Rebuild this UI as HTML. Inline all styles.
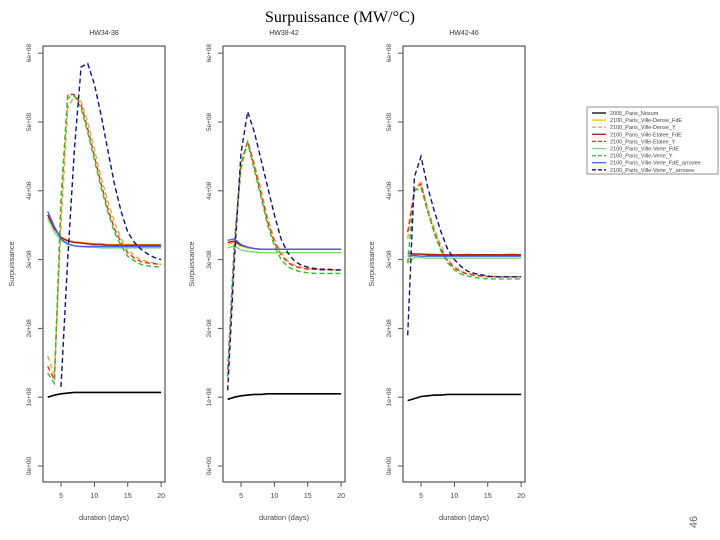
<!DOCTYPE html>
<html><head><meta charset="utf-8"><style>
body{margin:0;background:#fff;}
svg{display:block;font-family:"Liberation Sans",sans-serif;}
</style></head><body>
<svg id="c" width="720" height="540">
<text x="340" y="22" text-anchor="middle" font-family="Liberation Serif,serif" font-size="16">Surpuissance (MW/°C)</text>
<text transform="translate(697,522) rotate(-90)" font-size="11" fill="#666" text-anchor="middle">46</text>
<g id="legend"></g>
</svg>
<script>
const days=[3,4,5,6,7,8,9,10,11,12,13,14,15,16,17,18,19,20];
const yTicks=[0,1,2,3,4,5,6];
const yTickLabels=["0e+00","1e+08","2e+08","3e+08","4e+08","5e+08","6e+08"];
const xTicks=[5,10,15,20];
const panelTitles=["HW34-38","HW38-42","HW42-46"];
const seriesNames=["2005_Paris_Nosum","2100_Paris_Ville-Dense_FdE","2100_Paris_Ville-Dense_Y","2100_Paris_Ville-Etalee_FdE","2100_Paris_Ville-Etalee_Y","2100_Paris_Ville-Verte_FdE","2100_Paris_Ville-Verte_Y","2100_Paris_Ville-Verte_FdE_arrosee","2100_Paris_Ville-Verte_Y_arrosee"];
// values in units of 1e8
const p1=[
[1.00,1.03,1.05,1.06,1.07,1.07,1.07,1.07,1.07,1.07,1.07,1.07,1.07,1.07,1.07,1.07,1.07,1.07],
[3.65,3.45,3.33,3.28,3.26,3.25,3.24,3.23,3.23,3.22,3.22,3.22,3.22,3.22,3.22,3.22,3.22,3.22],
[1.6,1.3,3.5,5.2,5.38,5.3,5.0,4.6,4.2,3.85,3.55,3.3,3.15,3.05,3.0,2.97,2.95,2.93],
[3.65,3.45,3.32,3.27,3.25,3.24,3.23,3.22,3.22,3.21,3.21,3.21,3.21,3.21,3.21,3.21,3.21,3.21],
[1.45,1.25,3.8,5.4,5.4,5.25,4.9,4.5,4.1,3.75,3.45,3.25,3.1,3.02,2.97,2.95,2.94,2.93],
[3.6,3.4,3.28,3.22,3.2,3.19,3.18,3.18,3.17,3.17,3.17,3.17,3.17,3.17,3.17,3.17,3.17,3.17],
[1.35,1.2,3.9,5.35,5.38,5.2,4.85,4.45,4.05,3.7,3.4,3.2,3.05,2.98,2.93,2.91,2.9,2.89],
[3.7,3.48,3.3,3.23,3.2,3.19,3.19,3.19,3.19,3.19,3.19,3.19,3.19,3.19,3.19,3.19,3.19,3.19],
[null,null,1.15,3.0,4.6,5.8,5.85,5.55,5.1,4.6,4.1,3.7,3.4,3.25,3.15,3.08,3.03,3.0]];
const p2=[
[0.97,1.0,1.02,1.03,1.04,1.04,1.05,1.05,1.05,1.05,1.05,1.05,1.05,1.05,1.05,1.05,1.05,1.05],
[3.22,3.25,3.2,3.17,3.16,3.15,3.15,3.15,3.15,3.15,3.15,3.15,3.15,3.15,3.15,3.15,3.15,3.15],
[1.3,3.2,4.3,4.72,4.4,4.0,3.6,3.3,3.1,2.98,2.92,2.89,2.87,2.86,2.86,2.85,2.85,2.85],
[3.25,3.27,3.21,3.18,3.16,3.15,3.15,3.15,3.15,3.15,3.15,3.15,3.15,3.15,3.15,3.15,3.15,3.15],
[1.4,3.25,4.4,4.72,4.35,3.95,3.55,3.25,3.07,2.96,2.9,2.88,2.86,2.86,2.85,2.85,2.85,2.85],
[3.17,3.2,3.14,3.12,3.11,3.1,3.1,3.1,3.1,3.1,3.1,3.1,3.1,3.1,3.1,3.1,3.1,3.1],
[1.3,3.15,4.4,4.7,4.3,3.9,3.5,3.2,3.0,2.9,2.85,2.82,2.81,2.8,2.8,2.8,2.8,2.8],
[3.28,3.3,3.22,3.18,3.16,3.15,3.15,3.15,3.15,3.15,3.15,3.15,3.15,3.15,3.15,3.15,3.15,3.15],
[1.1,3.0,4.55,5.15,4.85,4.45,4.05,3.65,3.3,3.1,2.98,2.92,2.89,2.87,2.86,2.86,2.85,2.85]];
const p3=[
[0.95,0.98,1.01,1.02,1.03,1.03,1.04,1.04,1.04,1.04,1.04,1.04,1.04,1.04,1.04,1.04,1.04,1.04],
[3.0,3.08,3.08,3.08,3.08,3.07,3.07,3.07,3.07,3.08,3.07,3.07,3.07,3.07,3.07,3.08,3.08,3.07],
[3.3,4.05,4.12,3.75,3.45,3.2,3.0,2.9,2.83,2.8,2.78,2.77,2.76,2.76,2.75,2.75,2.75,2.75],
[3.1,3.08,3.08,3.07,3.07,3.07,3.07,3.07,3.07,3.07,3.07,3.07,3.07,3.07,3.07,3.07,3.07,3.07],
[3.4,4.0,4.1,3.7,3.4,3.15,2.98,2.88,2.82,2.79,2.77,2.76,2.75,2.75,2.75,2.75,2.75,2.75],
[2.95,3.03,3.03,3.02,3.02,3.02,3.02,3.02,3.02,3.02,3.02,3.02,3.02,3.02,3.02,3.02,3.02,3.02],
[2.95,4.0,4.05,3.7,3.38,3.12,2.95,2.85,2.79,2.76,2.74,2.73,2.72,2.72,2.72,2.72,2.72,2.72],
[3.05,3.06,3.05,3.05,3.05,3.05,3.05,3.05,3.05,3.05,3.05,3.05,3.05,3.05,3.05,3.05,3.05,3.05],
[1.9,4.2,4.5,4.05,3.7,3.4,3.15,3.0,2.9,2.83,2.8,2.78,2.76,2.75,2.75,2.75,2.75,2.75]];
const panels=[p1,p2,p3];
const colors=["#000","#f5b800","#f5a623","#b01010","#e03030","#70e070","#2ec02e","#4060ff","#101090"];
const dashed=[false,false,true,false,true,false,true,false,true];
const NS="http://www.w3.org/2000/svg";
const svg=document.getElementById('c');
function mk(t,a,p){const e=document.createElementNS(NS,t);for(const k in a)e.setAttribute(k,a[k]);(p||svg).appendChild(e);return e;}
function yS(v){return 466-v*68.8;}
panels.forEach((pd,pi)=>{
  const off=pi*180;
  const xS=d=>47.7+off+(d-3)*6.67;
  const g=mk('g',{});
  
  
  const box=mk('rect',{x:43+off,y:46,width:122,height:436,fill:'none',stroke:'#555','stroke-width':1.2},g);
  
  
  const t=mk('text',{x:104+off,y:35,'text-anchor':'middle','font-size':7,fill:'#333'},g);
  t.textContent=panelTitles[pi];
  
  
  yTicks.forEach((v,i)=>{
    mk('line',{x1:38+off,x2:43+off,y1:yS(v),y2:yS(v),stroke:'#555'},g);
    const l=mk('text',{transform:`translate(${31+off},${yS(v)}) rotate(-90)`,'text-anchor':'middle','font-size':6.5,fill:'#444'},g);
    l.textContent=yTickLabels[i];
    
    
  });
  xTicks.forEach(v=>{
    mk('line',{x1:xS(v),x2:xS(v),y1:482,y2:487,stroke:'#555'},g);
    const l=mk('text',{x:xS(v),y:498,'text-anchor':'middle','font-size':7,fill:'#444'},g);
    l.textContent=v;
    
    
  });
  const xt=mk('text',{x:104+off,y:520,'text-anchor':'middle','font-size':7.5,fill:'#444'},g);
  xt.textContent='duration (days)';
  
  
  const yt=mk('text',{transform:`translate(${14+off},264) rotate(-90)`,'text-anchor':'middle','font-size':7.5,fill:'#444'},g);
  yt.textContent='Surpuissance';
  
  
  pd.forEach((s,si)=>{
    let d='';let pen=false;
    s.forEach((v,i)=>{if(v==null){pen=false;return;}d+=(pen?'L':'M')+xS(days[i]).toFixed(1)+','+yS(v).toFixed(1);pen=true;});
    const a={d:d,fill:'none',stroke:colors[si],'stroke-width':si==0?1.6:1.4};
    if(dashed[si])a['stroke-dasharray']='5,3';
    const p=mk('path',a,g);
    
    
  });
});
const lg=document.getElementById('legend');
const lb=mk('rect',{x:587,y:107,width:131,height:67,fill:'#fff',stroke:'#777','stroke-width':0.8},lg);


seriesNames.forEach((n,i)=>{
  const y=113+i*7.1;
  const a={x1:592,x2:606,y1:y,y2:y,stroke:colors[i],'stroke-width':1.3};
  if(dashed[i])a['stroke-dasharray']='4,2';
  mk('line',a,lg);
  const t=mk('text',{x:610,y:y+2,'font-size':5.5,fill:'#444'},lg);
  t.textContent=n;
  
  
});
</script>
</body></html>
